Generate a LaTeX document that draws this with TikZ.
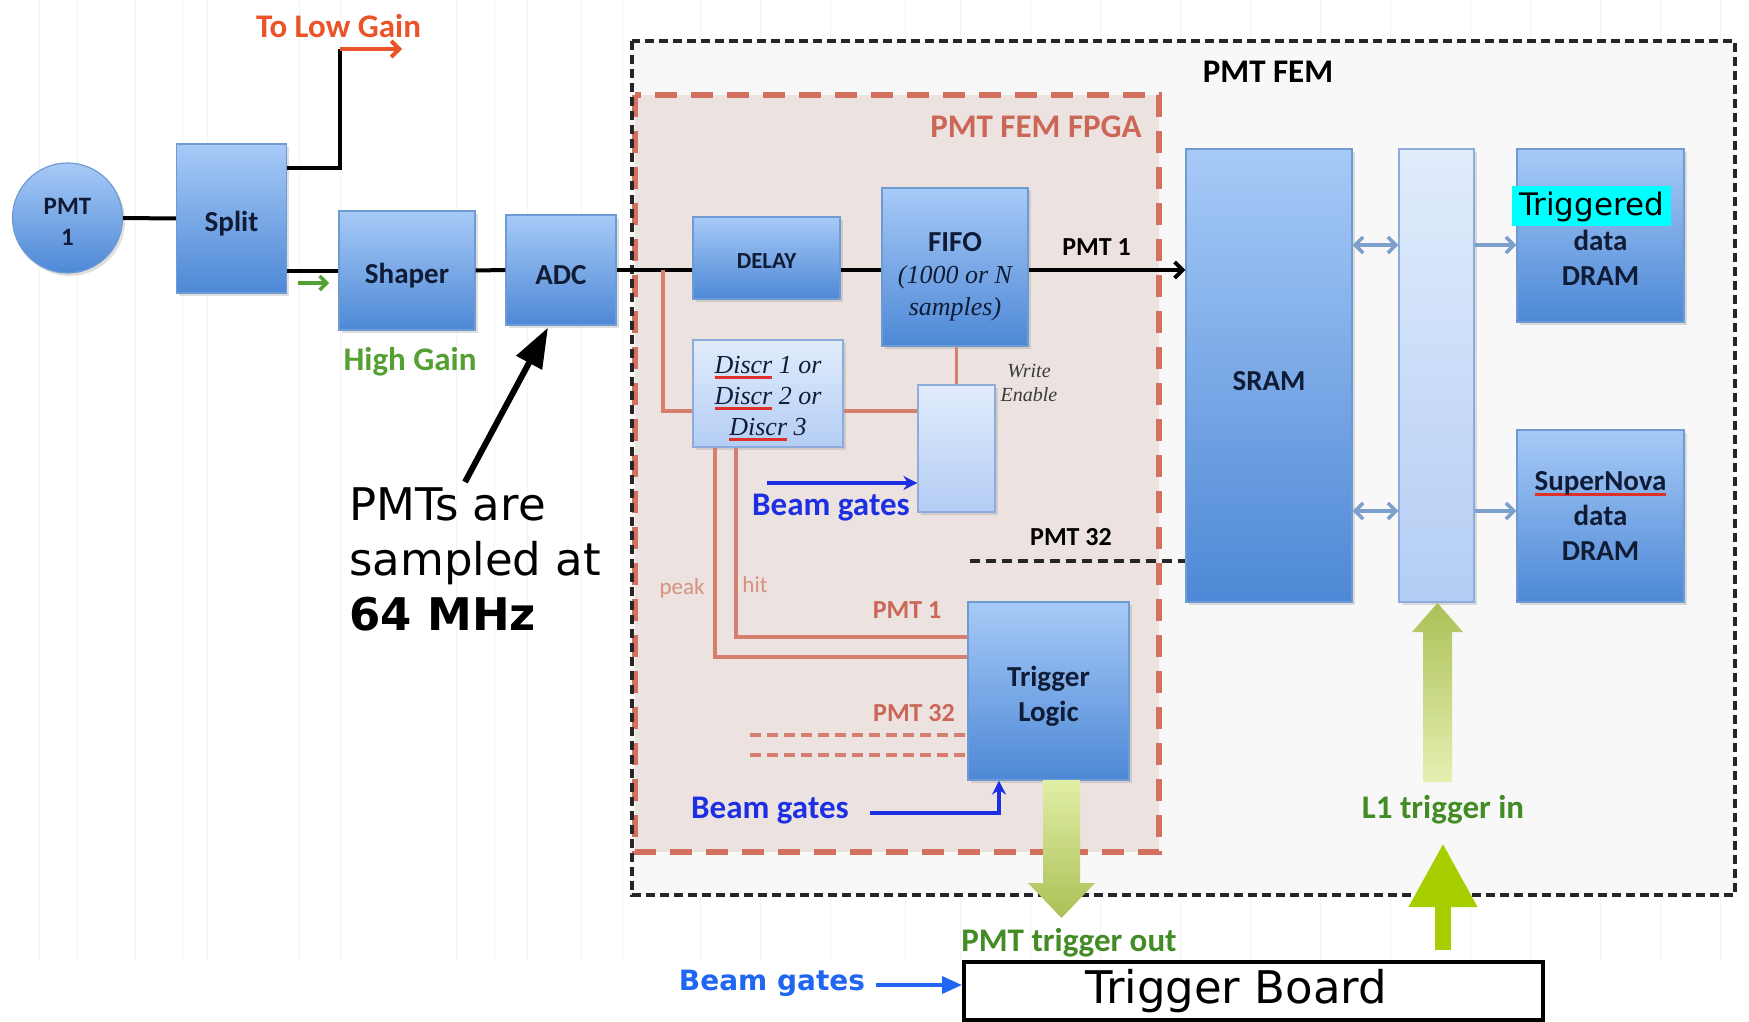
\documentclass[tikz,border=0pt]{standalone}
\usepackage{fontspec}
\setmainfont{Carlito}
\newfontfamily\timesfam{Liberation Serif}
\newfontfamily\dejavu{DejaVu Sans}
\usetikzlibrary{arrows.meta,shadows,calc}

\definecolor{boxtop}{HTML}{A7CAF7}
\definecolor{boxbot}{HTML}{4D88D6}
\definecolor{boxline}{HTML}{6F9BD3}
\definecolor{lighttop}{HTML}{E1ECFC}
\definecolor{lightbot}{HTML}{B3CDF4}
\definecolor{lightline}{HTML}{8EACDB}
\definecolor{boxtext}{HTML}{101C36}
\definecolor{fpgafill}{HTML}{ECE3E1}
\definecolor{fpgared}{HTML}{D4705F}
\definecolor{fpgatext}{HTML}{CC6757}
\definecolor{femfill}{HTML}{F8F8F8}
\definecolor{wirered}{HTML}{D67F6E}
\definecolor{peakred}{HTML}{D8907F}
\definecolor{lowred}{HTML}{EA5428}
\definecolor{hggreen}{HTML}{55A032}
\definecolor{trgreen}{HTML}{438C25}
\definecolor{gateblue}{HTML}{1D2FE3}
\definecolor{brightblue}{HTML}{1F66F2}
\definecolor{limegreen}{HTML}{A7CF00}
\definecolor{steel}{HTML}{7C9FCB}
\definecolor{hlcyan}{HTML}{00FFFF}
\definecolor{spellred}{HTML}{E0302A}
\definecolor{faint}{HTML}{F3F3F3}
\definecolor{enabletext}{HTML}{3A3A3A}

% red spell-check style underline
\newsavebox\spellbox
\newcommand\spellmark[1]{\sbox\spellbox{#1}\rlap{\textcolor{spellred}{\rule[-0.2em]{\wd\spellbox}{0.1em}}}\usebox\spellbox}
% cyan text highlight
\newcommand\hlword[1]{{\fboxsep=0pt\colorbox{hlcyan}{\rule[-11pt]{0pt}{40pt}\hspace{7pt}{\dejavu\mdseries\color{black}\fontsize{31}{35}\selectfont #1}\hspace{7pt}}}}
% invisible strut lifting the first text line
\newcommand\lift[1]{\rule{0pt}{#1}}

\tikzset{
  bluebox/.style={draw=boxline, line width=1.2pt, top color=boxtop, bottom color=boxbot,
    text=boxtext, font=\bfseries\fontsize{29}{35}\selectfont, align=center, inner sep=0pt,
    drop shadow={opacity=0.25, shadow xshift=2.5pt, shadow yshift=-3pt}},
  lightbox/.style={bluebox, draw=lightline, top color=lighttop, bottom color=lightbot},
  wire/.style={line width=4pt, black},
  redwire/.style={line width=3.5pt, wirered},
  reddash/.style={line width=4pt, wirered, dash pattern=on 11pt off 6pt},
  blackdash/.style={line width=3.5pt, black!85, dash pattern=on 10pt off 6pt},
  gatearrow/.style={line width=3.5pt, gateblue, -{Stealth[length=14pt,width=14pt]}},
  steelarrow/.style={line width=3.5pt, steel},
  barb/.tip={Straight Barb[length=8pt,width=16pt]},
  lbl/.style={inner sep=0pt, font=\bfseries\fontsize{33}{38}\selectfont},
  smalllbl/.style={inner sep=0pt, font=\bfseries\fontsize{26}{30}\selectfont},
  notefont/.style={inner sep=0pt, font=\dejavu\fontsize{45}{54}\selectfont}
}

\begin{document}
\begin{tikzpicture}[x=1pt,y=-1pt]
\useasboundingbox (0,0) rectangle (1749,1022);
\fill[white] (0,0) rectangle (1749,1022);

% faint ruled background
\foreach \gx in {39,77,135,182,207,299,340,456,494,527,581,622,700,760,830,905,960,1030,1100,1180,1250,1320,1390,1470,1530,1600,1660,1720}
  \draw[faint, line width=1pt] (\gx,0) -- (\gx,960);

% PMT FEM module and its FPGA
\fill[femfill] (632,41) rectangle (1735,895);
\draw[fill=fpgafill, draw=fpgared, line width=5.5pt, dash pattern=on 22pt off 14pt] (635,95) rectangle (1159,852);
\draw[black!85, line width=4pt, dash pattern=on 9pt off 5pt] (632,41) rectangle (1735,895);

% blocks
\node[bluebox, circle, minimum size=110pt, font=\bfseries\fontsize{25}{31}\selectfont] (pmt) at (67.5,218) {\lift{23pt}PMT\\1};
\node[bluebox, minimum width=110pt, minimum height=149pt] (split) at (231.5,218.5) {\lift{30pt}Split};
\node[bluebox, minimum width=136pt, minimum height=119pt] (shaper) at (407,270.5) {\lift{30pt}Shaper};
\node[bluebox, minimum width=110pt, minimum height=110pt] (adc) at (561,270) {\lift{30pt}ADC};
\node[bluebox, minimum width=147pt, minimum height=82pt, font=\bfseries\fontsize{23}{28}\selectfont] (delay) at (766.5,258) {\lift{20pt}DELAY};
\node[bluebox, minimum width=146pt, minimum height=158pt, font=\timesfam\itshape\mdseries\fontsize{26}{32}\selectfont] (fifo) at (955,267)
  {{\normalfont\bfseries\fontsize{29}{32}\selectfont\lift{39pt}FIFO}\\(1000 or N\\samples)};
\node[lightbox, minimum width=150pt, minimum height=107pt, font=\timesfam\itshape\mdseries\fontsize{26}{31}\selectfont] (discr) at (768,393.5)
  {\lift{27pt}\spellmark{Discr} 1 or\\\spellmark{Discr} 2 or\\\spellmark{Discr} 3};
\node[lightbox, minimum width=77pt, minimum height=127pt] (we) at (956.5,448.5) {};
\node[bluebox, minimum width=161pt, minimum height=178pt] (trig) at (1048.5,691) {\lift{31pt}Trigger\\Logic};
\node[bluebox, minimum width=166pt, minimum height=453pt] (sram) at (1269,375.5) {\lift{30pt}SRAM};
\node[lightbox, minimum width=75pt, minimum height=453pt] (bus) at (1436.5,375.5) {};
\node[bluebox, minimum width=167pt, minimum height=173pt] (tdram) at (1600.5,235.5) {\hspace*{-18pt}\hlword{Triggered}\\data\\DRAM};
\node[bluebox, minimum width=167pt, minimum height=172pt] (sndram) at (1600.5,516) {\spellmark{SuperNova}\\data\\DRAM};
\node[draw=black, fill=white, line width=4pt, minimum width=579pt, minimum height=58pt, inner sep=0pt,
  font=\dejavu\fontsize{45}{50}\selectfont] (board) at (1253.5,991) {\hspace*{-35pt}Trigger Board};

% analog chain
\draw[wire] (pmt.east) -- (split.west);
\coordinate (lowturn) at (340,168);
\coordinate (lowtop) at (340,49);
\coordinate (lowend) at (402,49);
\draw[wire] (split.east |- lowturn) -- (lowturn) -- (lowtop);
\draw[line width=4pt, lowred, -barb] (lowtop) -- (lowend);
\draw[wire] (split.east |- shaper.west) -- (shaper.west);
\coordinate (hgA) at (298,283);
\coordinate (hgB) at (329,283);
\draw[line width=3.5pt, hggreen, -{Straight Barb[length=7pt,width=14pt]}] (hgA) -- (hgB);
\draw[wire] (shaper.east) -- (adc.west);

% digital path through the FPGA
\draw[wire] (adc.east) -- (delay.west |- adc.east);
\draw[wire] (delay.east |- adc.east) -- (fifo.west |- adc.east);
\draw[wire, -barb] (fifo.east |- adc.east) -- (sram.west |- adc.east);

\coordinate (tap) at (663,270);
\coordinate (tapfoot) at (663,411);
\draw[redwire] (tap) -- (tapfoot) -- (discr.west |- tapfoot);
\draw[redwire] (discr.east |- tapfoot) -- (we.west |- tapfoot);
\draw[redwire] (fifo.south -| we.north) -- (we.north);
\coordinate (gateA) at (767,483);
\draw[gatearrow] (gateA) -- (we.west |- gateA);

\coordinate (peakcorner) at (715,657);
\coordinate (hitcorner) at (736,637);
\draw[redwire] (discr.south -| peakcorner) -- (peakcorner) -- (trig.west |- peakcorner);
\draw[redwire] (discr.south -| hitcorner) -- (hitcorner) -- (trig.west |- hitcorner);
\coordinate (busA) at (750,735);
\coordinate (busB) at (750,755);
\draw[reddash] (busA) -- (trig.west |- busA);
\draw[reddash] (busB) -- (trig.west |- busB);
\coordinate (pmt32in) at (970,561);
\draw[blackdash] (pmt32in) -- (sram.west |- pmt32in);
\coordinate (gateB) at (870,813);
\coordinate (gateBturn) at (999,813);
\draw[gatearrow] (gateB) -- (gateBturn) -- (gateBturn |- trig.south);

% memory side
\coordinate (rowA) at (0,245);
\coordinate (rowB) at (0,511);
\draw[steelarrow, barb-barb] (sram.east |- rowA) -- (bus.west |- rowA);
\draw[steelarrow, -barb] (bus.east |- rowA) -- (tdram.west |- rowA);
\draw[steelarrow, barb-barb] (sram.east |- rowB) -- (bus.west |- rowB);
\draw[steelarrow, -barb] (bus.east |- rowB) -- (sndram.west |- rowB);

% trigger block arrows
\shade[top color=limegreen!35!white, bottom color=limegreen!60!white!85!black]
  (1043,780) -- (1080,780) -- (1080,883) -- (1095,883) -- (1061.5,918) -- (1028,883) -- (1043,883) -- cycle;
\shade[top color=limegreen!60!white!85!black, bottom color=limegreen!30!white]
  (1437.5,603) -- (1463,632) -- (1452,632) -- (1452,782) -- (1423,782) -- (1423,632) -- (1412,632) -- cycle;
\coordinate (l1tip) at (1443,843);
\draw[limegreen, line width=16pt, shorten <=10pt, -{Triangle[length=64pt,width=64pt]}] (board.north -| l1tip) -- (l1tip);
\coordinate (gateC) at (876,985);
\draw[brightblue, line width=3.5pt, -{Triangle[length=20pt,width=17pt]}] (gateC) -- (board.west |- gateC);

% annotation
\node[notefont, anchor=base west] (noteA) at (349,520) {PMTs are};
\node[notefont, anchor=base west] (noteB) at (349,575) {sampled at};
\node[notefont, anchor=base west, font=\dejavu\bfseries\fontsize{45}{54}\selectfont] (noteC) at (349,630) {64 MHz};
\coordinate (noteTail) at (465,482);
\draw[black, line width=6pt, -{Triangle[length=40pt,width=28pt]}] (noteTail) -- ($(adc.south)+(-13,2)$);

% labels
\node[lbl, text=lowred] (lowgain) at (338.5,26) {To Low Gain};
\node[lbl, text=hggreen] (highgain) at (410,362) {High Gain};
\node[lbl] (femtitle) at (1268,72) {PMT FEM};
\node[lbl, text=fpgatext] (fpgatitle) at (1036,127) {PMT FEM FPGA};
\node[smalllbl] (pmt1out) at (1096.5,247) {PMT 1};
\node[smalllbl] (pmt32out) at (1071,537) {PMT 32};
\node[smalllbl, text=fpgatext] (pmt1in) at (907,610) {PMT 1};
\node[smalllbl, text=fpgatext] (pmt32lbl) at (914,713) {PMT 32};
\node[inner sep=0pt, font=\fontsize{23}{26}\selectfont, text=peakred] (peaklbl) at (682,588) {peak};
\node[inner sep=0pt, font=\fontsize{23}{26}\selectfont, text=peakred] (hitlbl) at (755,585) {hit};
\node[inner sep=0pt, align=center, font=\timesfam\itshape\fontsize{20}{24}\selectfont, text=enabletext] (welbl) at (1029,383) {Write\\Enable};
\node[lbl, text=gateblue] (gate1lbl) at (831,508) {Beam gates};
\node[lbl, text=gateblue] (gate2lbl) at (770,811) {Beam gates};
\node[lbl, text=trgreen] (l1lbl) at (1443,810) {L1 trigger in};
\node[lbl, text=trgreen] (outlbl) at (1069,943) {PMT trigger out};
\node[inner sep=0pt, font=\dejavu\bfseries\fontsize{28}{32}\selectfont, text=brightblue] (gate3lbl) at (772,983) {Beam gates};
\end{tikzpicture}
\end{document}
